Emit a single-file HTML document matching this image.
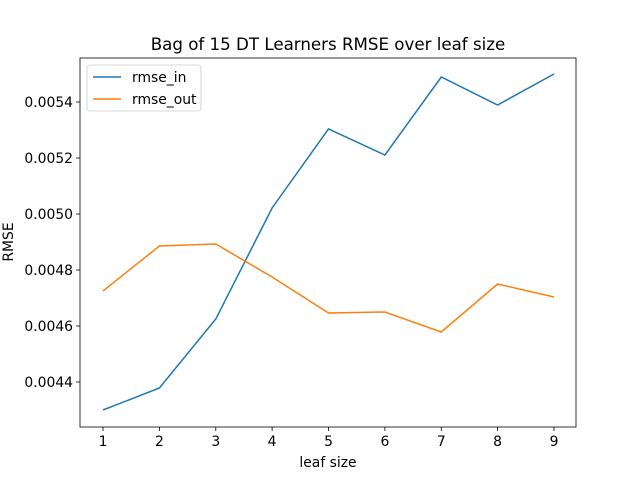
<!DOCTYPE html>
<html><head><style>body{margin:0;background:#fff}svg{display:block}text{font-family:"DejaVu Sans","Liberation Sans",sans-serif;fill:#000}</style></head><body>
<svg width="640" height="480" viewBox="0 0 640 480">
<rect width="640" height="480" fill="#fff"/>
<text x="328" y="50" font-size="16.67" text-anchor="middle">Bag of 15 DT Learners RMSE over leaf size</text>
<g stroke="#000" stroke-width="0.8">
<line x1="103" y1="427" x2="103" y2="431"/><line x1="159.4" y1="427" x2="159.4" y2="431"/><line x1="215.8" y1="427" x2="215.8" y2="431"/><line x1="272.1" y1="427" x2="272.1" y2="431"/><line x1="328.5" y1="427" x2="328.5" y2="431"/><line x1="384.9" y1="427" x2="384.9" y2="431"/><line x1="441.3" y1="427" x2="441.3" y2="431"/><line x1="497.6" y1="427" x2="497.6" y2="431"/><line x1="554" y1="427" x2="554" y2="431"/>
<line x1="76" y1="382" x2="80" y2="382"/><line x1="76" y1="326" x2="80" y2="326"/><line x1="76" y1="270" x2="80" y2="270"/><line x1="76" y1="214" x2="80" y2="214"/><line x1="76" y1="158" x2="80" y2="158"/><line x1="76" y1="102" x2="80" y2="102"/>
</g>
<g font-size="13.9" text-anchor="middle">
<text x="103" y="446">1</text><text x="159.4" y="446">2</text><text x="215.8" y="446">3</text><text x="272.1" y="446">4</text><text x="328.5" y="446">5</text><text x="384.9" y="446">6</text><text x="441.3" y="446">7</text><text x="497.6" y="446">8</text><text x="554" y="446">9</text>
</g>
<g font-size="13.9" text-anchor="end">
<text x="73" y="387">0.0044</text><text x="73" y="331">0.0046</text><text x="73" y="275">0.0048</text><text x="73" y="219">0.0050</text><text x="73" y="163">0.0052</text><text x="73" y="107">0.0054</text>
</g>
<text x="328" y="467" font-size="13.9" text-anchor="middle">leaf size</text>
<text x="0" y="0" font-size="13.9" text-anchor="middle" transform="translate(13,242) rotate(-90)">RMSE</text>
<polyline fill="none" stroke="#1f77b4" stroke-width="1.5" points="103,410 159.4,388 215.8,319 272.1,208 328.5,129 384.9,155 441.3,77 497.6,105 554,74"/>
<polyline fill="none" stroke="#ff7f0e" stroke-width="1.5" points="103,291 159.4,246 215.8,244 272.1,277 328.5,313 384.9,312 441.3,332 497.6,284 554,297"/>
<rect x="80" y="58" width="496" height="369" fill="none" stroke="#000" stroke-width="0.8"/>
<rect x="87" y="65" width="114" height="46" rx="3" fill="#fff" fill-opacity="0.8" stroke="#ccc" stroke-width="0.8"/>
<line x1="93" y1="77" x2="121" y2="77" stroke="#1f77b4" stroke-width="1.5"/>
<line x1="93" y1="99" x2="121" y2="99" stroke="#ff7f0e" stroke-width="1.5"/>
<text x="132" y="82" font-size="13.9">rmse_in</text>
<text x="132" y="104" font-size="13.9">rmse_out</text>
</svg>
</body></html>
